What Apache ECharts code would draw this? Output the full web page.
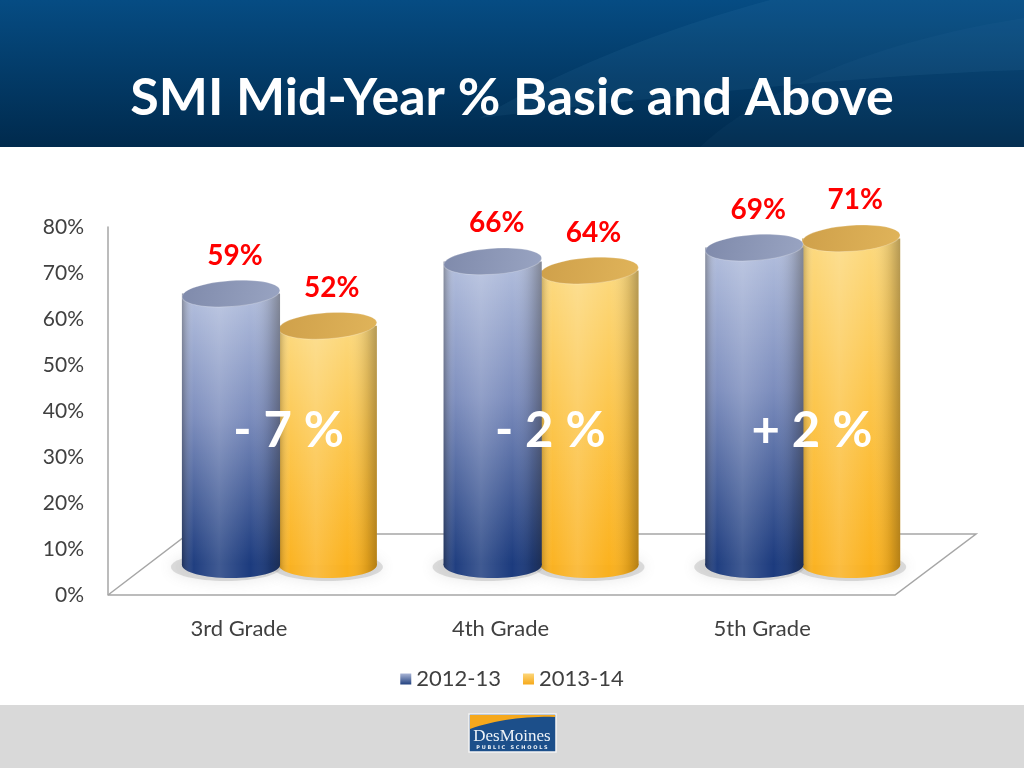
<!DOCTYPE html>
<html>
<head>
<meta charset="utf-8">
<title>SMI Mid-Year % Basic and Above</title>
<script src="https://cdn.jsdelivr.net/npm/echarts@6/dist/echarts.min.js"></script>
<style>
    html, body { margin: 0; padding: 0; background: #fff; }
    #main { width: 1024px; height: 768px; }
</style>
</head>
<body>
<div id="main"></div>
<script>
// data
let grades = ['3rd Grade', '4th Grade', '5th Grade'];
let years = ['2012-13', '2013-14'];
let basic_2012 = [59, 66, 69];
let basic_2013 = [52, 64, 71];

let SlideChart = (function () {
    let chart = echarts.init(document.getElementById('main'));
    let font = 'Lato, "Open Sans", sans-serif';

    let LG = echarts.graphic.LinearGradient;

    let looks = {
        blue: {
            body: new LG(0, 0, 0, 1, [
                {offset: 0, color: '#b2bedd'},
                {offset: 0.45, color: '#7c8dbd'},
                {offset: 1, color: '#1b3a7d'}
            ]),
            bottom: '#1c3b7e',
            cap: new LG(0, 0, 1, 1, [
                {offset: 0, color: '#7f8aab'},
                {offset: 1, color: '#99a4c2'}
            ]),
            legend: new LG(0, 0, 0, 1, [
                {offset: 0, color: '#a9b5d6'},
                {offset: 1, color: '#22417f'}
            ])
        },
        gold: {
            body: new LG(0, 0, 0, 1, [
                {offset: 0, color: '#fcd97e'},
                {offset: 0.5, color: '#fcc54a'},
                {offset: 1, color: '#fbb21f'}
            ]),
            bottom: '#f9b01e',
            cap: new LG(0, 0, 1, 1, [
                {offset: 0, color: '#cfa04a'},
                {offset: 1, color: '#e0b45a'}
            ]),
            legend: new LG(0, 0, 0, 1, [
                {offset: 0, color: '#fcd67a'},
                {offset: 1, color: '#f6a91a'}
            ])
        }
    };

    // side shading, same for both colours
    let shade = function () {
        return new LG(0, 0, 1, 0, [
            {offset: 0, color: 'rgba(40,30,10,0.30)'},
            {offset: 0.12, color: 'rgba(255,255,255,0.02)'},
            {offset: 0.38, color: 'rgba(255,255,255,0.16)'},
            {offset: 0.7, color: 'rgba(255,255,255,0)'},
            {offset: 0.9, color: 'rgba(30,20,0,0.14)'},
            {offset: 1, color: 'rgba(30,20,0,0.32)'}
        ]);
    };

    // points along a cubic curve, for the decorative swooshes
    let curve = function (p0, p1, p2, p3, n) {
        let pts = [];
        for (let k = 0; k <= n; k++) {
            let t = k / n, u = 1 - t;
            pts.push([
                u * u * u * p0[0] + 3 * u * u * t * p1[0] + 3 * u * t * t * p2[0] + t * t * t * p3[0],
                u * u * u * p0[1] + 3 * u * u * t * p1[1] + 3 * u * t * t * p2[1] + t * t * t * p3[1]
            ]);
        }
        return pts;
    };

    // bar geometry in fractions of the category band
    let bar_width = 0.375;
    let offsets = [-0.03, 0.34];
    let lift = 30;   // floor depth in px
    let cap_ry = 13;

    let make_cylinder = function (look, offset) {
        return function (params, api) {
            let i = api.value(0);
            let v = api.value(1);
            let base = api.coord([i, 0]);
            let top = api.coord([i, v]);
            let band = api.size([1, 0])[0];
            let w = band * bar_width;
            let cx = base[0] + band * offset;
            let y_top = top[1] - lift;
            let y_bot = base[1] - lift;
            return {
                type: 'group',
                children: [
                    {
                        type: 'ellipse',
                        shape: {cx: cx, cy: y_bot, rx: w / 2, ry: cap_ry},
                        style: {fill: look.bottom}
                    },
                    {
                        type: 'ellipse',
                        shape: {cx: cx, cy: y_bot, rx: w / 2, ry: cap_ry},
                        style: {fill: shade()}
                    },
                    {
                        type: 'rect',
                        shape: {x: cx - w / 2, y: y_top, width: w, height: y_bot - y_top},
                        style: {fill: look.body}
                    },
                    {
                        type: 'rect',
                        shape: {x: cx - w / 2, y: y_top, width: w, height: y_bot - y_top},
                        style: {fill: shade()}
                    },
                    {
                        type: 'ellipse',
                        x: cx, y: y_top,
                        rotation: 0.07,
                        shape: {cx: 0, cy: 0, rx: w / 2, ry: cap_ry},
                        style: {fill: look.cap, stroke: 'rgba(255,255,255,0.25)', lineWidth: 1}
                    },
                    {
                        type: 'text',
                        x: cx + 4, y: y_top - 38,
                        style: {
                            text: v + '%', fill: '#ff0000',
                            font: 'bold 28px ' + font,
                            align: 'center', verticalAlign: 'middle'
                        }
                    }
                ]
            };
        };
    };

    let render_shadows = function (params, api) {
        let i = api.value(0);
        let base = api.coord([i, 0]);
        let band = api.size([1, 0])[0];
        let w = band * bar_width;
        let y_bot = base[1] - lift;
        return {
            type: 'group',
            children: offsets.map(function (off, k) {
                return {
                    type: 'ellipse',
                    shape: {cx: base[0] + band * off - 5 + k * 5, cy: y_bot + 2, rx: w / 2 + 6, ry: cap_ry + 1},
                    style: {
                        fill: 'rgba(150,150,150,0.3)',
                        shadowBlur: 14, shadowColor: 'rgba(110,110,110,0.5)'
                    },
                    silent: true
                };
            })
        };
    };

    let render_change = function (params, api) {
        let i = api.value(0);
        let d = api.value(1);
        let base = api.coord([i, 0]);
        let band = api.size([1, 0])[0];
        let mid = api.coord([i, 35.5]);
        let text = (d < 0 ? '- ' : '+ ') + Math.abs(d) + ' %';
        return {
            type: 'text',
            x: base[0] + band * 0.19, y: mid[1],
            style: {
                text: text, fill: '#ffffff',
                font: 'bold 49px ' + font,
                align: 'center', verticalAlign: 'middle'
            }
        };
    };

    let _init = function () {
        let data_2012 = grades.map((g, i) => [i, basic_2012[i]]);
        let data_2013 = grades.map((g, i) => [i, basic_2013[i]]);
        let changes = grades.map((g, i) => [i, basic_2013[i] - basic_2012[i]]);

        let swoosh1 = curve([480, 118], [560, 70], [660, 30], [770, 0], 24)
            .concat([[1024, 0], [1024, 70]])
            .concat(curve([1024, 70], [860, 75], [650, 98], [480, 118], 24));
        let swoosh2 = curve([700, 147], [760, 90], [880, 40], [1024, 18], 24).concat([[1024, 147]]);
        let logo_gold = [[470, 715], [555, 715], [555, 717]]
            .concat(curve([555, 717], [525, 716], [495, 720], [470, 729], 16));

        let option = {
            backgroundColor: '#ffffff',
            animation: false,
            textStyle: {fontFamily: font},
            grid: {left: 108, right: 131, top: 227, bottom: 173},
            legend: {
                data: years,
                top: 663,
                left: 'center',
                icon: 'rect',
                itemWidth: 11,
                itemHeight: 11,
                itemGap: 22,
                textStyle: {fontSize: 22, color: '#404040', fontFamily: font}
            },
            xAxis: {
                type: 'category',
                data: grades,
                axisLine: {show: false},
                axisTick: {show: false},
                axisLabel: {fontSize: 22, color: '#404040', margin: 23, fontFamily: font}
            },
            yAxis: {
                type: 'value',
                min: 0,
                max: 80,
                interval: 10,
                axisLine: {show: true, lineStyle: {color: '#a6a6a6', width: 1.5}},
                axisTick: {show: false},
                splitLine: {show: false},
                axisLabel: {formatter: '{value}%', fontSize: 21, color: '#404040', margin: 24, fontFamily: font}
            },
            graphic: [
                // header band
                {
                    type: 'rect', z: 0,
                    shape: {x: 0, y: 0, width: 1024, height: 147},
                    style: {fill: new LG(0, 0, 0, 1, [
                        {offset: 0, color: '#064c83'},
                        {offset: 1, color: '#002a4d'}
                    ])}
                },
                {
                    type: 'polygon', z: 0,
                    shape: {points: swoosh1},
                    style: {fill: 'rgba(120,180,220,0.07)'}
                },
                {
                    type: 'polygon', z: 0,
                    shape: {points: swoosh2},
                    style: {fill: 'rgba(120,180,220,0.04)'}
                },
                {
                    type: 'text', z: 1,
                    x: 512, y: 98,
                    style: {
                        text: 'SMI Mid-Year % Basic and Above',
                        fill: '#ffffff', font: 'bold 52px ' + font,
                        align: 'center', verticalAlign: 'middle'
                    }
                },
                // floor of the 3d plot
                {
                    type: 'polyline', z: 0,
                    shape: {points: [[108, 595], [895, 595], [976, 534], [188, 534], [108, 595]]},
                    style: {stroke: '#a6a6a6', lineWidth: 1.5, fill: null}
                },
                // footer band with logo
                {
                    type: 'rect', z: 0,
                    shape: {x: 0, y: 705, width: 1024, height: 63},
                    style: {fill: '#d9d9d9'}
                },
                {
                    type: 'rect', z: 1,
                    shape: {x: 469, y: 714, width: 87, height: 38},
                    style: {fill: '#1c4f8a', stroke: '#f4f4f4', lineWidth: 1.5}
                },
                {
                    type: 'polygon', z: 1,
                    shape: {points: logo_gold},
                    style: {fill: '#f5a81c'}
                },
                {
                    type: 'text', z: 1,
                    x: 512, y: 737,
                    style: {
                        text: 'DesMoines', fill: '#eef3f8',
                        font: '17px "Liberation Serif", serif',
                        align: 'center', verticalAlign: 'middle'
                    }
                },
                {
                    type: 'text', z: 1,
                    x: 512, y: 748,
                    style: {
                        text: 'P U B L I C   S C H O O L S', fill: '#eef3f8',
                        font: 'bold 5px "DejaVu Sans", sans-serif',
                        align: 'center', verticalAlign: 'middle'
                    }
                }
            ],
            series: [
                {
                    type: 'custom',
                    name: 'shadows',
                    z: 1,
                    silent: true,
                    renderItem: render_shadows,
                    data: data_2012
                },
                {
                    type: 'custom',
                    name: years[1],
                    z: 2,
                    itemStyle: {color: looks.gold.legend},
                    renderItem: make_cylinder(looks.gold, offsets[1]),
                    data: data_2013
                },
                {
                    type: 'custom',
                    name: years[0],
                    z: 3,
                    itemStyle: {color: looks.blue.legend},
                    renderItem: make_cylinder(looks.blue, offsets[0]),
                    data: data_2012
                },
                {
                    type: 'custom',
                    name: 'change',
                    z: 4,
                    silent: true,
                    renderItem: render_change,
                    data: changes
                }
            ]
        };
        chart.setOption(option);
    };

    return {
        init: _init
    };
})();
SlideChart.init();
</script>
</body>
</html>
